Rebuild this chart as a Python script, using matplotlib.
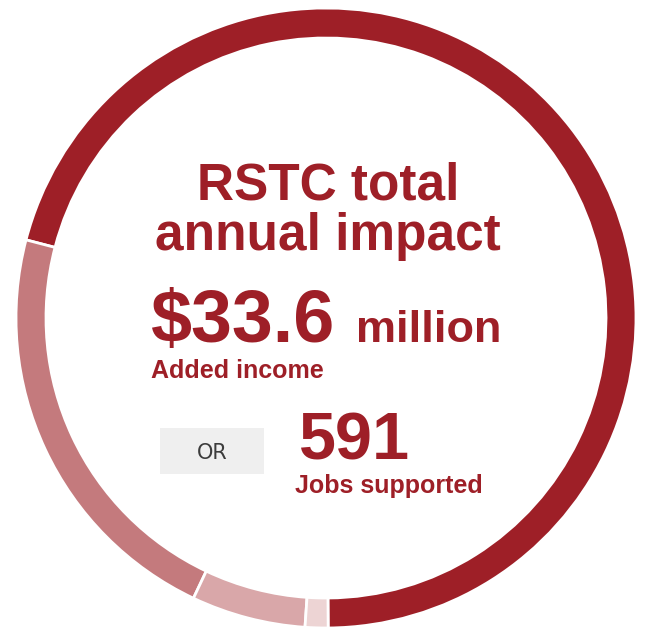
import matplotlib
matplotlib.use('Agg')
import matplotlib.pyplot as plt
from matplotlib.patches import Rectangle

# components of the annual added income ($ million)
segments = ['Direct', 'Indirect', 'Induced', 'Other']
values = [23.8, 7.4, 2.0, 0.4]
colors = ['#9e1f27', '#c47a7d', '#d9a7a9', '#edd4d4']

title_lines = ['RSTC total', 'annual impact']
income_value = '$33.6'
income_unit = 'million'
income_label = 'Added income'
jobs_value = '591'
jobs_label = 'Jobs supported'

W, H = 649, 628
red = '#9e1f27'

fig = plt.figure(figsize=(W / 100, H / 100), dpi=100)
ax = fig.add_axes([0, 0, 1, 1])

# donut ring
ax.pie(values, colors=colors, startangle=-89.6, counterclock=True,
       radius=310, center=(326, H - 318),
       wedgeprops=dict(width=30, edgecolor='white', linewidth=2))

ax.set_xlim(0, W)
ax.set_ylim(0, H)
ax.set_aspect('equal')
ax.axis('off')

font = 'Liberation Sans'

# title
ax.text(328, H - 200, title_lines[0], ha='center', va='baseline',
        fontsize=37, fontweight='bold', color=red, family=font)
ax.text(328, H - 250, title_lines[1], ha='center', va='baseline',
        fontsize=37, fontweight='bold', color=red, family=font)

# income
ax.text(151, H - 342, income_value, ha='left', va='baseline',
        fontsize=53, fontweight='bold', color=red, family=font)
ax.text(356, H - 342, income_unit, ha='left', va='baseline',
        fontsize=32.5, fontweight='bold', color=red, family=font)
ax.text(151, H - 378, income_label, ha='left', va='baseline',
        fontsize=18, fontweight='bold', color=red, family=font)

# OR box
ax.add_patch(Rectangle((160, H - 474), 104, 46, facecolor='#efefef',
                       edgecolor='none'))
ax.text(212, H - 459, 'OR', ha='center', va='baseline', fontsize=15,
        color='#3c3c3c', family='DejaVu Sans')

# jobs
ax.text(299, H - 459, jobs_value, ha='left', va='baseline',
        fontsize=48, fontweight='bold', color=red, family=font)
ax.text(295, H - 493, jobs_label, ha='left', va='baseline',
        fontsize=18, fontweight='bold', color=red, family=font)

fig.savefig('out.png', dpi=100)
